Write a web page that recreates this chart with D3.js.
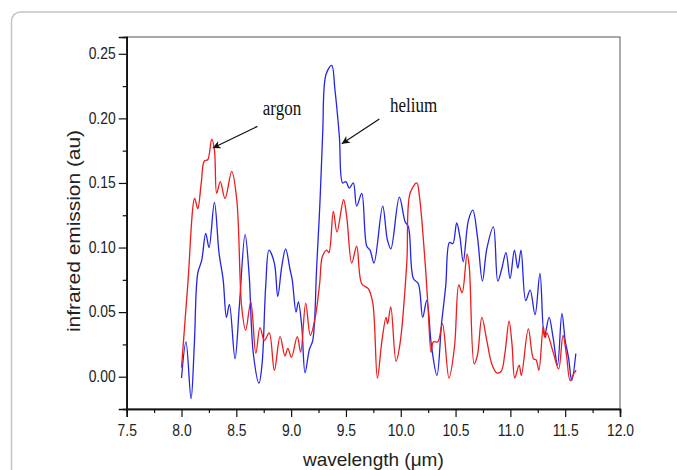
<!DOCTYPE html>
<html>
<head>
<meta charset="utf-8">
<script src="https://cdn.jsdelivr.net/npm/d3@7"></script>
<style>
  body { margin: 0; background: #fff; }
</style>
</head>
<body>
<script>
// wavelength (um) / emission pairs
let argonX = [8.000, 8.056, 8.120, 8.148, 8.180, 8.208, 8.239, 8.276, 8.300, 8.321, 8.354, 8.397, 8.458, 8.504, 8.549, 8.585,
  8.632, 8.678, 8.716, 8.756, 8.800, 8.847, 8.899, 8.944, 8.970, 9.003, 9.056, 9.087, 9.133, 9.175, 9.218, 9.260,
  9.285, 9.325, 9.345, 9.385, 9.418, 9.478, 9.507, 9.553, 9.598, 9.644, 9.705, 9.745, 9.787, 9.827, 9.866, 9.880,
  9.909, 9.957, 9.994, 10.055, 10.085, 10.146, 10.170, 10.225, 10.250, 10.277, 10.298, 10.338, 10.380, 10.440, 10.490,
  10.530, 10.560, 10.605, 10.625, 10.670, 10.700, 10.740, 10.785, 10.830, 10.876, 10.915, 10.950, 10.988, 11.015,
  11.040, 11.080, 11.100, 11.164, 11.210, 11.235, 11.260, 11.300, 11.318, 11.333, 11.390, 11.440, 11.480, 11.510,
  11.545, 11.575, 11.600]
let argonY = [0.007, 0.070, 0.138, 0.130, 0.150, 0.167, 0.168, 0.184, 0.176, 0.142, 0.151, 0.138, 0.159, 0.137, 0.054, 0.036,
  0.058, 0.018, 0.038, 0.028, 0.034, 0.005, 0.031, 0.016, 0.022, 0.015, 0.031, 0.019, 0.057, 0.032, 0.045, 0.072,
  0.093, 0.098, 0.096, 0.128, 0.112, 0.137, 0.124, 0.088, 0.101, 0.072, 0.068, 0.057, -0.001, 0.027, 0.046, 0.041,
  0.054, 0.012, 0.026, 0.088, 0.142, 0.150, 0.140, 0.085, 0.052, 0.019, 0.027, 0.027, 0.041, -0.001, 0.023,
  0.071, 0.065, 0.095, 0.085, 0.010, 0.017, 0.046, 0.028, 0.010, 0.003, 0.004, 0.018, 0.043, 0.025,
  -0.001, 0.009, 0.001, 0.037, 0.014, 0.013, 0.005, 0.039, 0.030, 0.034, 0.019, 0.006, 0.032, 0.018,
  -0.003, 0.002, 0.005]

let heliumX = [8.000, 8.041, 8.087, 8.117, 8.148, 8.184, 8.221, 8.251, 8.300, 8.342, 8.380, 8.410, 8.437, 8.488, 8.527, 8.580,
  8.616, 8.655, 8.707, 8.735, 8.768, 8.798, 8.847, 8.878, 8.914, 8.950, 8.990, 9.010, 9.045, 9.066, 9.097, 9.127,
  9.166, 9.197, 9.233, 9.264, 9.288, 9.318, 9.370, 9.400, 9.440, 9.470, 9.500, 9.530, 9.567, 9.598, 9.644, 9.690,
  9.720, 9.756, 9.835, 9.878, 9.910, 9.987, 10.040, 10.070, 10.115, 10.160, 10.200, 10.237, 10.280, 10.330, 10.372,
  10.410, 10.445, 10.475, 10.510, 10.540, 10.570, 10.617, 10.657, 10.700, 10.745, 10.785, 10.845, 10.885, 10.920,
  10.960, 10.997, 11.037, 11.068, 11.097, 11.140, 11.180, 11.225, 11.270, 11.310, 11.353, 11.390, 11.430, 11.470,
  11.500, 11.530, 11.560, 11.597]
let heliumY = [-0.001, 0.027, -0.017, 0.025, 0.080, 0.090, 0.111, 0.100, 0.135, 0.096, 0.075, 0.046, 0.056, 0.014, 0.054, 0.110,
  0.080, 0.018, -0.005, 0.010, 0.070, 0.098, 0.088, 0.062, 0.085, 0.099, 0.083, 0.075, 0.050, 0.058, 0.039, 0.003,
  0.021, 0.028, 0.085, 0.137, 0.189, 0.234, 0.241, 0.222, 0.186, 0.150, 0.151, 0.146, 0.150, 0.132, 0.142, 0.101,
  0.098, 0.088, 0.132, 0.106, 0.099, 0.139, 0.120, 0.116, 0.076, 0.072, 0.046, 0.059, 0.024, 0.001, 0.041,
  0.070, 0.104, 0.103, 0.119, 0.108, 0.089, 0.121, 0.129, 0.108, 0.074, 0.099, 0.116, 0.074, 0.083,
  0.096, 0.076, 0.098, 0.084, 0.098, 0.059, 0.067, 0.048, 0.080, 0.031, 0.046, 0.030, 0.009, 0.049,
  0.028, 0.015, -0.003, 0.018]

let xTicks = [7.5, 8.0, 8.5, 9.0, 9.5, 10.0, 10.5, 11.0, 11.5, 12.0]
let yTicks = [0.00, 0.05, 0.10, 0.15, 0.20, 0.25]

// label text, label anchor, arrow tail, arrow tip (data units)
let labels = ['argon', 'helium']
let labelPos = [[8.741, 0.2029], [9.902, 0.2047]]
let arrowFrom = [[8.692, 0.1938], [9.805, 0.1995]]
let arrowTo = [[8.285, 0.1770], [9.462, 0.1804]]

let width = 677, height = 470

let svg = d3.select('body').append('svg')
  .attr('xmlns', 'http://www.w3.org/2000/svg')
  .attr('width', width)
  .attr('height', height)

// page frame
svg.append('rect')
  .attr('x', 11.5).attr('y', 12)
  .attr('width', 720).attr('height', 520)
  .attr('rx', 9)
  .attr('fill', 'none')
  .attr('stroke', '#c4c4c4')
  .attr('stroke-width', 1.5)

let x = d3.scaleLinear().domain([7.5, 12.0]).range([126.7, 620])
let y = d3.scaleLinear().domain([-0.025, 0.263]).range([409, 37])

let defs = svg.append('defs')
defs.append('marker')
  .attr('id', 'head')
  .attr('viewBox', '0 0 10 10')
  .attr('refX', 10).attr('refY', 5)
  .attr('markerWidth', 10).attr('markerHeight', 8)
  .attr('markerUnits', 'userSpaceOnUse')
  .attr('orient', 'auto')
  .append('path')
  .attr('d', 'M0,0 L10,5 L0,10 L3,5 Z')
  .attr('fill', '#111')

// plot box
svg.append('rect')
  .attr('x', x(7.5)).attr('y', y(0.263))
  .attr('width', x(12) - x(7.5)).attr('height', y(-0.025) - y(0.263))
  .attr('fill', 'none')
  .attr('stroke', '#555')
  .attr('stroke-width', 1)

// axes
let xMinor = d3.range(7.75, 12, 0.5)
let xAxis = svg.append('g').attr('transform', 'translate(0,' + y(-0.025) + ')')
xAxis.append('g')
  .call(d3.axisBottom(x).tickValues(xMinor).tickSize(4).tickFormat(''))
xAxis.append('g')
  .call(d3.axisBottom(x).tickValues(xTicks).tickSize(8).tickFormat(d3.format('.1f')))
xAxis.selectAll('.domain').attr('stroke', '#111').attr('stroke-width', 1.5)
xAxis.selectAll('.tick line').attr('stroke', '#111').attr('stroke-width', 1.2)
xAxis.selectAll('.tick text')
  .attr('y', 0).attr('dy', null)
  .attr('transform', 'translate(0,27) scale(1.03,1.22)')
  .attr('fill', '#222')
  .style('font-family', 'Liberation Sans, Arial, sans-serif')
  .style('font-size', '13.5px')

let yMinor = d3.range(0.025, 0.26, 0.05)
let yAxis = svg.append('g').attr('transform', 'translate(' + x(7.5) + ',0)')
yAxis.append('g')
  .call(d3.axisLeft(y).tickValues(yMinor).tickSize(4).tickFormat(''))
yAxis.append('g')
  .call(d3.axisLeft(y).tickValues(yTicks).tickSize(8).tickFormat(d3.format('.2f')))
yAxis.selectAll('.domain').attr('stroke', '#111').attr('stroke-width', 1.5)
yAxis.selectAll('.tick line').attr('stroke', '#111').attr('stroke-width', 1.2)
yAxis.selectAll('.tick text')
  .attr('x', 0).attr('dy', null)
  .attr('transform', 'translate(-11,4.8) scale(1.03,1.22)')
  .attr('fill', '#222')
  .style('font-family', 'Liberation Sans, Arial, sans-serif')
  .style('font-size', '13.5px')

// axis titles
svg.append('text')
  .attr('transform', 'translate(' + (x(7.5) + x(12)) / 2 + ',466)')
  .attr('text-anchor', 'middle')
  .style('font-family', 'Liberation Sans, Arial, sans-serif')
  .style('font-size', '19px')
  .attr('fill', '#222')
  .text('wavelength (\u03bcm)')

svg.append('text')
  .attr('transform', 'translate(80,231) rotate(-90) scale(1.1,1)')
  .attr('text-anchor', 'middle')
  .style('font-family', 'Liberation Sans, Arial, sans-serif')
  .style('font-size', '19px')
  .attr('fill', '#222')
  .text('infrared emission (au)')

// curves
let line = d3.line()
  .x(d => x(d[0]))
  .y(d => y(d[1]))
  .curve(d3.curveCatmullRom.alpha(0.5))

let helium = heliumX.map((v, i) => [v, heliumY[i]])
let argon = argonX.map((v, i) => [v, argonY[i]])

svg.append('path')
  .datum(helium)
  .attr('d', line)
  .attr('fill', 'none')
  .attr('stroke', '#2424e6')
  .attr('stroke-width', 1.3)

svg.append('path')
  .datum(argon)
  .attr('d', line)
  .attr('fill', 'none')
  .attr('stroke', '#ee1c1c')
  .attr('stroke-width', 1.3)

// annotations
labels.forEach(function(name, i) {
  svg.append('line')
    .attr('x1', x(arrowFrom[i][0])).attr('y1', y(arrowFrom[i][1]))
    .attr('x2', x(arrowTo[i][0])).attr('y2', y(arrowTo[i][1]))
    .attr('stroke', '#111')
    .attr('stroke-width', 1.2)
    .attr('marker-end', 'url(#head)')

  svg.append('text')
    .attr('transform', 'translate(' + x(labelPos[i][0]) + ',' + y(labelPos[i][1]) + ') scale(1,1.22)')
    .style('font-family', 'Liberation Serif, Times New Roman, serif')
    .style('font-size', '17px')
    .attr('fill', '#111')
    .text(name)
})
</script>
</body>
</html>
